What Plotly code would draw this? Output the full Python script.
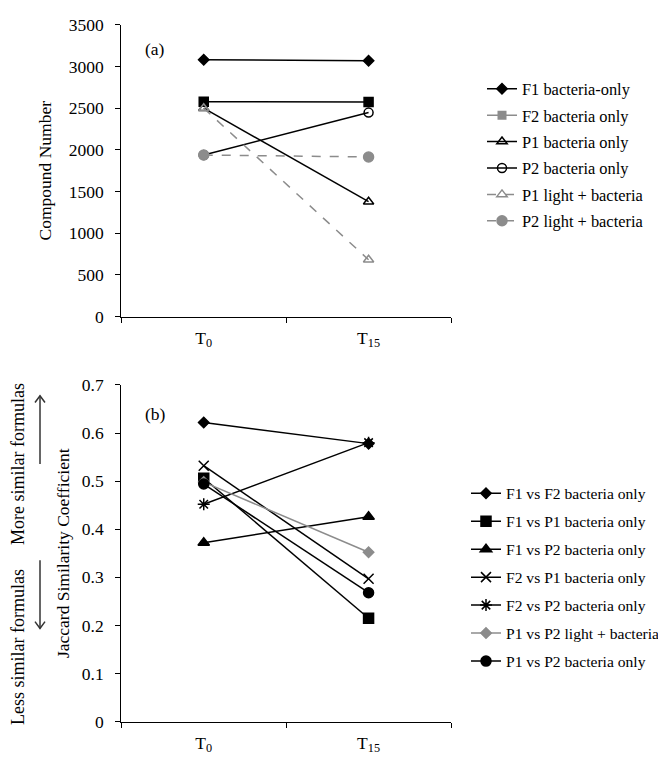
import plotly.graph_objects as go

# time points
times = ["T0", "T15"]
time_labels = ["T<sub>0</sub>", "T<sub>15</sub>"]

# (a) compound numbers
f1_bact = [3082, 3068]
f2_bact = [2578, 2575]
p1_bact = [2500, 1378]
p2_bact = [1938, 2447]
p1_light = [2500, 682]
p2_light = [1938, 1915]

# (b) Jaccard similarity coefficients
f1_f2 = [0.622, 0.578]
f1_p1 = [0.506, 0.215]
f1_p2 = [0.372, 0.426]
f2_p1 = [0.532, 0.297]
f2_p2 = [0.452, 0.580]
p1_p2_light = [0.498, 0.352]
p1_p2_bact = [0.494, 0.268]

FONT = "Liberation Serif"
GRAY = "#8c8c8c"
W, H = 666, 757
FS = 17.5

fig = go.Figure()


def add(y, name, color, symbol, size, dash, xa, ya, legend, group, show=True):
    fig.add_trace(go.Scatter(
        x=times, y=y, name=name, mode="lines+markers",
        line=dict(color=color, width=1.5, dash=dash),
        marker=dict(symbol=symbol, size=size, color=color, line=dict(color=color, width=1.5)),
        xaxis=xa, yaxis=ya, legend=legend, legendgroup=group, showlegend=show,
    ))


# panel (a)
add(f1_bact, "F1 bacteria-only", "black", "diamond", 8, "solid", "x", "y", "legend", "a1")
# F2 drawn black in the plot, legend shows it grey
add(f2_bact, "F2 bacteria only", "black", "square", 9, "solid", "x", "y", "legend", "a2", show=False)
fig.add_trace(go.Scatter(x=[None], y=[None], name="F2 bacteria only", mode="lines+markers",
                         line=dict(color=GRAY, width=1.5),
                         marker=dict(symbol="square", size=9, color=GRAY),
                         xaxis="x", yaxis="y", legend="legend", legendgroup="a2"))
add(p1_bact, "P1 bacteria only", "black", "triangle-up-open", 9, "solid", "x", "y", "legend", "a3")
add(p2_bact, "P2 bacteria only", "black", "circle-open", 9, "solid", "x", "y", "legend", "a4")
add(p1_light, "P1 light + bacteria", GRAY, "triangle-up-open", 9, "dash", "x", "y", "legend", "a5")
add(p2_light, "P2 light + bacteria", GRAY, "circle", 10, "dash", "x", "y", "legend", "a6")

# panel (b)
add(f1_f2, "F1 vs F2 bacteria only", "black", "diamond", 8, "solid", "x2", "y2", "legend2", "b1")
add(f1_p1, "F1 vs P1 bacteria only", "black", "square", 10, "solid", "x2", "y2", "legend2", "b2")
add(f1_p2, "F1 vs P2 bacteria only", "black", "triangle-up", 10, "solid", "x2", "y2", "legend2", "b3")
add(f2_p1, "F2 vs P1 bacteria only", "black", "x-thin-open", 10, "solid", "x2", "y2", "legend2", "b4")
add(f2_p2, "F2 vs P2 bacteria only", "black", "asterisk-open", 10, "solid", "x2", "y2", "legend2", "b5")
add(p1_p2_light, "P1 vs P2 light + bacteria", GRAY, "diamond", 8, "solid", "x2", "y2", "legend2", "b6")
add(p1_p2_bact, "P1 vs P2 bacteria only", "black", "circle", 10, "solid", "x2", "y2", "legend2", "b7")

xdom = [113.3 / W, 443 / W]
xaxis_common = dict(
    type="category", categoryorder="array", categoryarray=times,
    tickvals=times, ticktext=time_labels, tickson="boundaries",
    range=[-0.5, 1.5], showline=True, linecolor="black", linewidth=1.3,
    ticks="outside", ticklen=5, tickcolor="black", showgrid=False, zeroline=False,
    ticklabelstandoff=5,
    tickfont=dict(family=FONT, size=FS, color="black"),
)


def yaxis_common(title, standoff):
    return dict(
        showline=True, linecolor="black", linewidth=1.3, ticks="outside", ticklen=5,
        tickcolor="black", showgrid=False, zeroline=False, ticklabelstandoff=8,
        tickfont=dict(family=FONT, size=FS, color="black"),
        title=dict(text=title, standoff=standoff, font=dict(family=FONT, size=FS, color="black")),
    )


legend_common = dict(
    xanchor="left", yanchor="top", bgcolor="rgba(0,0,0,0)",
    traceorder="grouped", itemwidth=30,
)

fig.update_layout(
    width=W, height=H,
    margin=dict(l=0, r=0, t=0, b=0),
    paper_bgcolor="white", plot_bgcolor="white",
    xaxis=dict(domain=xdom, anchor="y", **xaxis_common),
    yaxis=dict(domain=[1 - 306.7 / H, 1 - 7 / H], anchor="x", range=[0, 3500], dtick=500,
               **yaxis_common("Compound Number", 12)),
    xaxis2=dict(domain=xdom, anchor="y2", **xaxis_common),
    yaxis2=dict(domain=[1 - 722.7 / H, 1 - 376.9 / H], anchor="x2", range=[0, 0.7], dtick=0.1,
                **yaxis_common("Jaccard Similarity Coefficient", 7)),
    legend=dict(x=474 / W, y=1 - 55 / H, tracegroupgap=2.1,
                font=dict(family=FONT, size=16.4, color="black"), **legend_common),
    legend2=dict(x=458 / W, y=1 - 471 / H, tracegroupgap=4.7,
                 font=dict(family=FONT, size=15.6, color="black"), **legend_common),
    showlegend=True,
)

# panel letters
fig.add_annotation(text="(a)", x=135 / W, y=1 - 20 / H, xref="paper", yref="paper",
                   xanchor="left", showarrow=False, font=dict(family=FONT, size=FS, color="black"))
fig.add_annotation(text="(b)", x=135 / W, y=1 - 407 / H, xref="paper", yref="paper",
                   xanchor="left", showarrow=False, font=dict(family=FONT, size=FS, color="black"))

# direction labels on the left of panel (b)
fig.add_annotation(text="More similar formulas", x=10 / W, y=1 - 458 / H, xref="paper", yref="paper",
                   xanchor="center", yanchor="middle", textangle=-90, showarrow=False,
                   font=dict(family=FONT, size=18, color="black"))
fig.add_annotation(text="Less similar formulas", x=10 / W, y=1 - 646 / H, xref="paper", yref="paper",
                   xanchor="center", yanchor="middle", textangle=-90, showarrow=False,
                   font=dict(family=FONT, size=18, color="black"))


def arrow(x, y_tail, y_head):
    fig.add_shape(type="line", xref="paper", yref="paper",
                  x0=x / W, x1=x / W, y0=1 - y_tail / H, y1=1 - y_head / H,
                  line=dict(color="#333333", width=1.5))
    d = 7 if y_head > y_tail else -7
    path = "M {},{} L {},{} L {},{}".format(
        (x - 5) / W, 1 - (y_head - d) / H, x / W, 1 - y_head / H, (x + 5) / W, 1 - (y_head - d) / H)
    fig.add_shape(type="path", xref="paper", yref="paper", path=path,
                  line=dict(color="#333333", width=1.5))


arrow(32, 458, 388)
arrow(32, 557, 627)

fig.write_html("out.html")
